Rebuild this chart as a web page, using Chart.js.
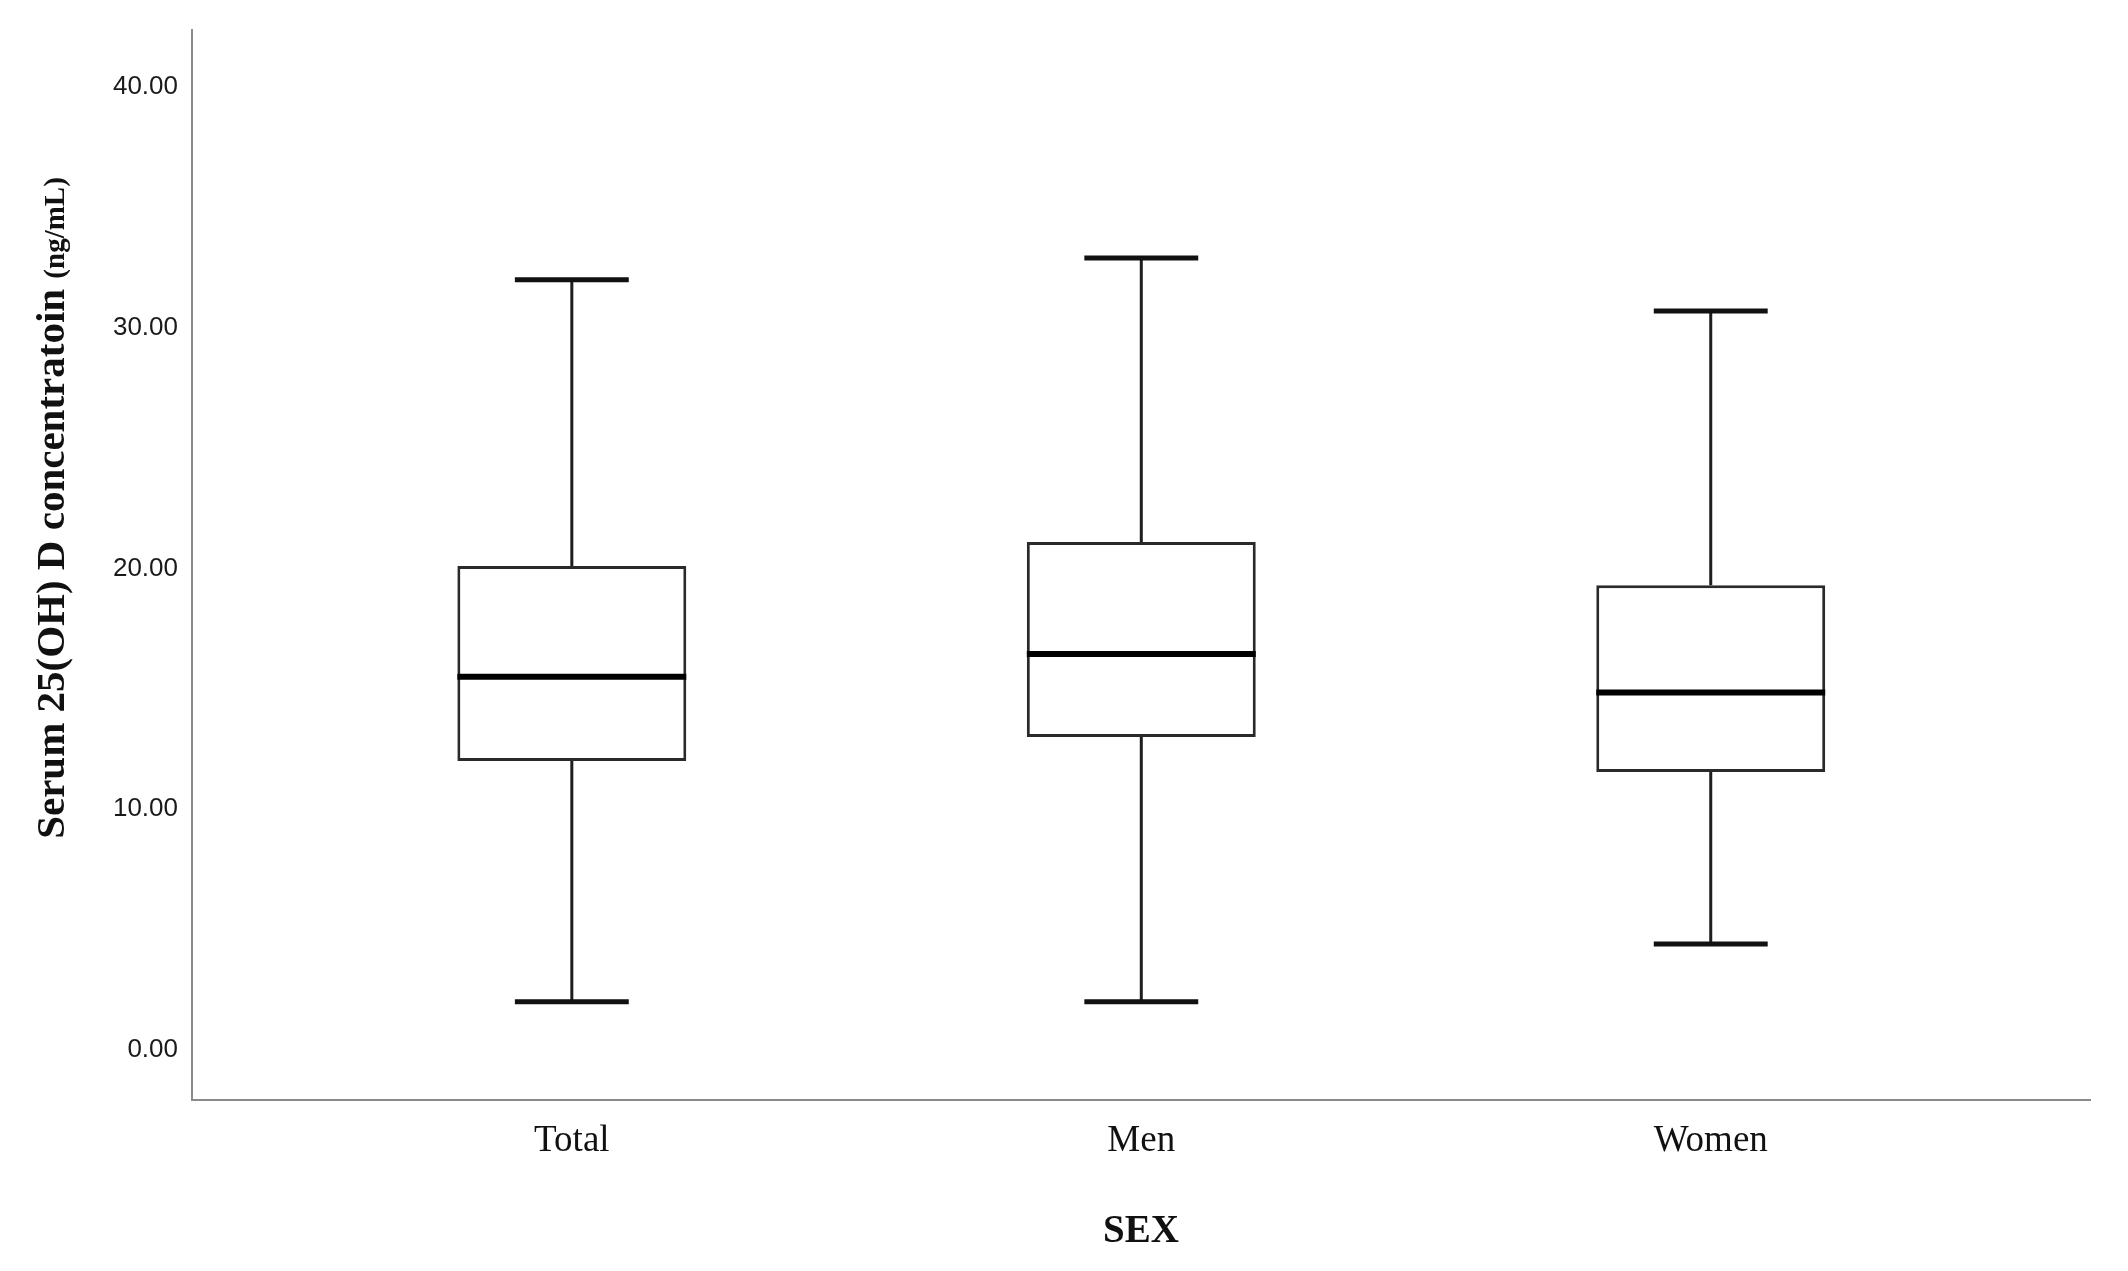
<!DOCTYPE html>
<html>
<head>
<meta charset="utf-8">
<title>Serum 25(OH) D by sex</title>
<script src="https://cdn.jsdelivr.net/npm/chart.js@4/dist/chart.umd.min.js"></script>
<style>
  html, body { margin: 0; padding: 0; background: #fff; }
  #wrap { width: 2128px; height: 1271px; }
</style>
</head>
<body>
<div id="wrap"><canvas id="boxChart" width="2128" height="1271"></canvas></div>
<script>
console.log(' -box plot by sex');

// data
var categories = ['Total', 'Men', 'Women'];
var whiskerLow = [2.0, 2.0, 4.4];
var q1 = [12.0, 13.0, 11.55];
var median = [15.5, 16.45, 14.85];
var q3 = [20.1, 21.1, 19.3];
var whiskerHigh = [32.0, 32.9, 30.7];
var yTicks = [0, 10, 20, 30, 40];

// sizes in x-axis units
var boxHalf = 0.201;
var capHalf = 0.1;

var boxes = categories.map(function(c, i) {
    return { x: i, y: [q1[i], q3[i]] };
});

var whiskerPts = [], capPts = [], medianPts = [];
categories.forEach(function(c, i) {
    whiskerPts.push({ x: i, y: whiskerHigh[i] }, { x: i, y: q3[i] }, { x: i, y: null });
    whiskerPts.push({ x: i, y: q1[i] }, { x: i, y: whiskerLow[i] }, { x: i, y: null });
    capPts.push({ x: i - capHalf, y: whiskerHigh[i] }, { x: i + capHalf, y: whiskerHigh[i] }, { x: i, y: null });
    capPts.push({ x: i - capHalf, y: whiskerLow[i] }, { x: i + capHalf, y: whiskerLow[i] }, { x: i, y: null });
    medianPts.push({ x: i - boxHalf, y: median[i] }, { x: i + boxHalf, y: median[i] }, { x: i, y: null });
});

function segLine(pts, color, width, order) {
    return {
        type: 'line',
        data: pts,
        borderColor: color,
        borderWidth: width,
        borderCapStyle: 'butt',
        pointRadius: 0,
        pointHoverRadius: 0,
        fill: false,
        tension: 0,
        spanGaps: false,
        order: order
    };
}

// y title has two font sizes, so it is drawn by hand
var yTitlePlugin = {
    id: 'yTitle',
    afterDraw: function(chart) {
        var ctx = chart.ctx;
        var main = 'Serum 25(OH) D concentratoin ';
        var sub = '(ng/mL)';
        var fMain = 'bold 41px "Liberation Serif", "Times New Roman", serif';
        var fSub = 'bold 29px "Liberation Serif", "Times New Roman", serif';
        ctx.save();
        ctx.font = fMain;
        var w1 = ctx.measureText(main).width;
        ctx.font = fSub;
        var w2 = ctx.measureText(sub).width;
        ctx.translate(64, 508);
        ctx.rotate(-Math.PI / 2);
        ctx.fillStyle = '#111';
        ctx.textBaseline = 'alphabetic';
        ctx.textAlign = 'left';
        var start = -(w1 + w2) / 2;
        ctx.font = fMain;
        ctx.fillText(main, start, 0);
        ctx.font = fSub;
        ctx.fillText(sub, start + w1, 0);
        ctx.restore();
    }
};

var ctx = document.getElementById('boxChart').getContext('2d');
new Chart(ctx, {
    type: 'bar',
    data: {
        datasets: [
            {
                data: boxes,
                backgroundColor: '#ffffff',
                borderColor: '#2a2a2a',
                borderWidth: 3,
                borderSkipped: false,
                barPercentage: 0.402,
                categoryPercentage: 1,
                order: 3
            },
            segLine(whiskerPts, '#1e1e1e', 3, 2),
            segLine(capPts, '#111111', 5, 1),
            segLine(medianPts, '#000000', 6, 0)
        ]
    },
    options: {
        responsive: false,
        animation: false,
        devicePixelRatio: 1,
        layout: { padding: { top: 30, right: 38, left: 0, bottom: 0 } },
        plugins: {
            legend: { display: false },
            tooltip: { enabled: false }
        },
        scales: {
            x: {
                type: 'linear',
                min: -0.667,
                max: 2.666,
                offset: false,
                grid: { display: false, drawTicks: false },
                border: { display: true, color: '#8a8a8a', width: 2 },
                afterBuildTicks: function(s) {
                    s.ticks = categories.map(function(c, i) { return { value: i }; });
                },
                afterFit: function(s) { s.height = 171; },
                ticks: {
                    autoSkip: false,
                    maxRotation: 0,
                    padding: 19,
                    color: '#111',
                    font: { family: '"Liberation Serif", "Times New Roman", serif', size: 37 },
                    callback: function(v) { return categories[v]; }
                },
                title: {
                    display: true,
                    text: 'SEX',
                    color: '#111',
                    padding: { top: 0, bottom: 16 },
                    font: { family: '"Liberation Serif", "Times New Roman", serif', size: 39, weight: 'bold' }
                }
            },
            y: {
                min: -2.08,
                max: 42.37,
                grid: { display: false, drawTicks: false },
                border: { display: true, color: '#8a8a8a', width: 2 },
                afterBuildTicks: function(s) {
                    s.ticks = yTicks.map(function(v) { return { value: v }; });
                },
                afterFit: function(s) { s.width = 192; },
                ticks: {
                    padding: 14,
                    color: '#1a1a1a',
                    font: { family: '"Liberation Sans", Arial, sans-serif', size: 26 },
                    callback: function(v) { return Number(v).toFixed(2); }
                }
            }
        }
    },
    plugins: [yTitlePlugin]
});
</script>
</body>
</html>
